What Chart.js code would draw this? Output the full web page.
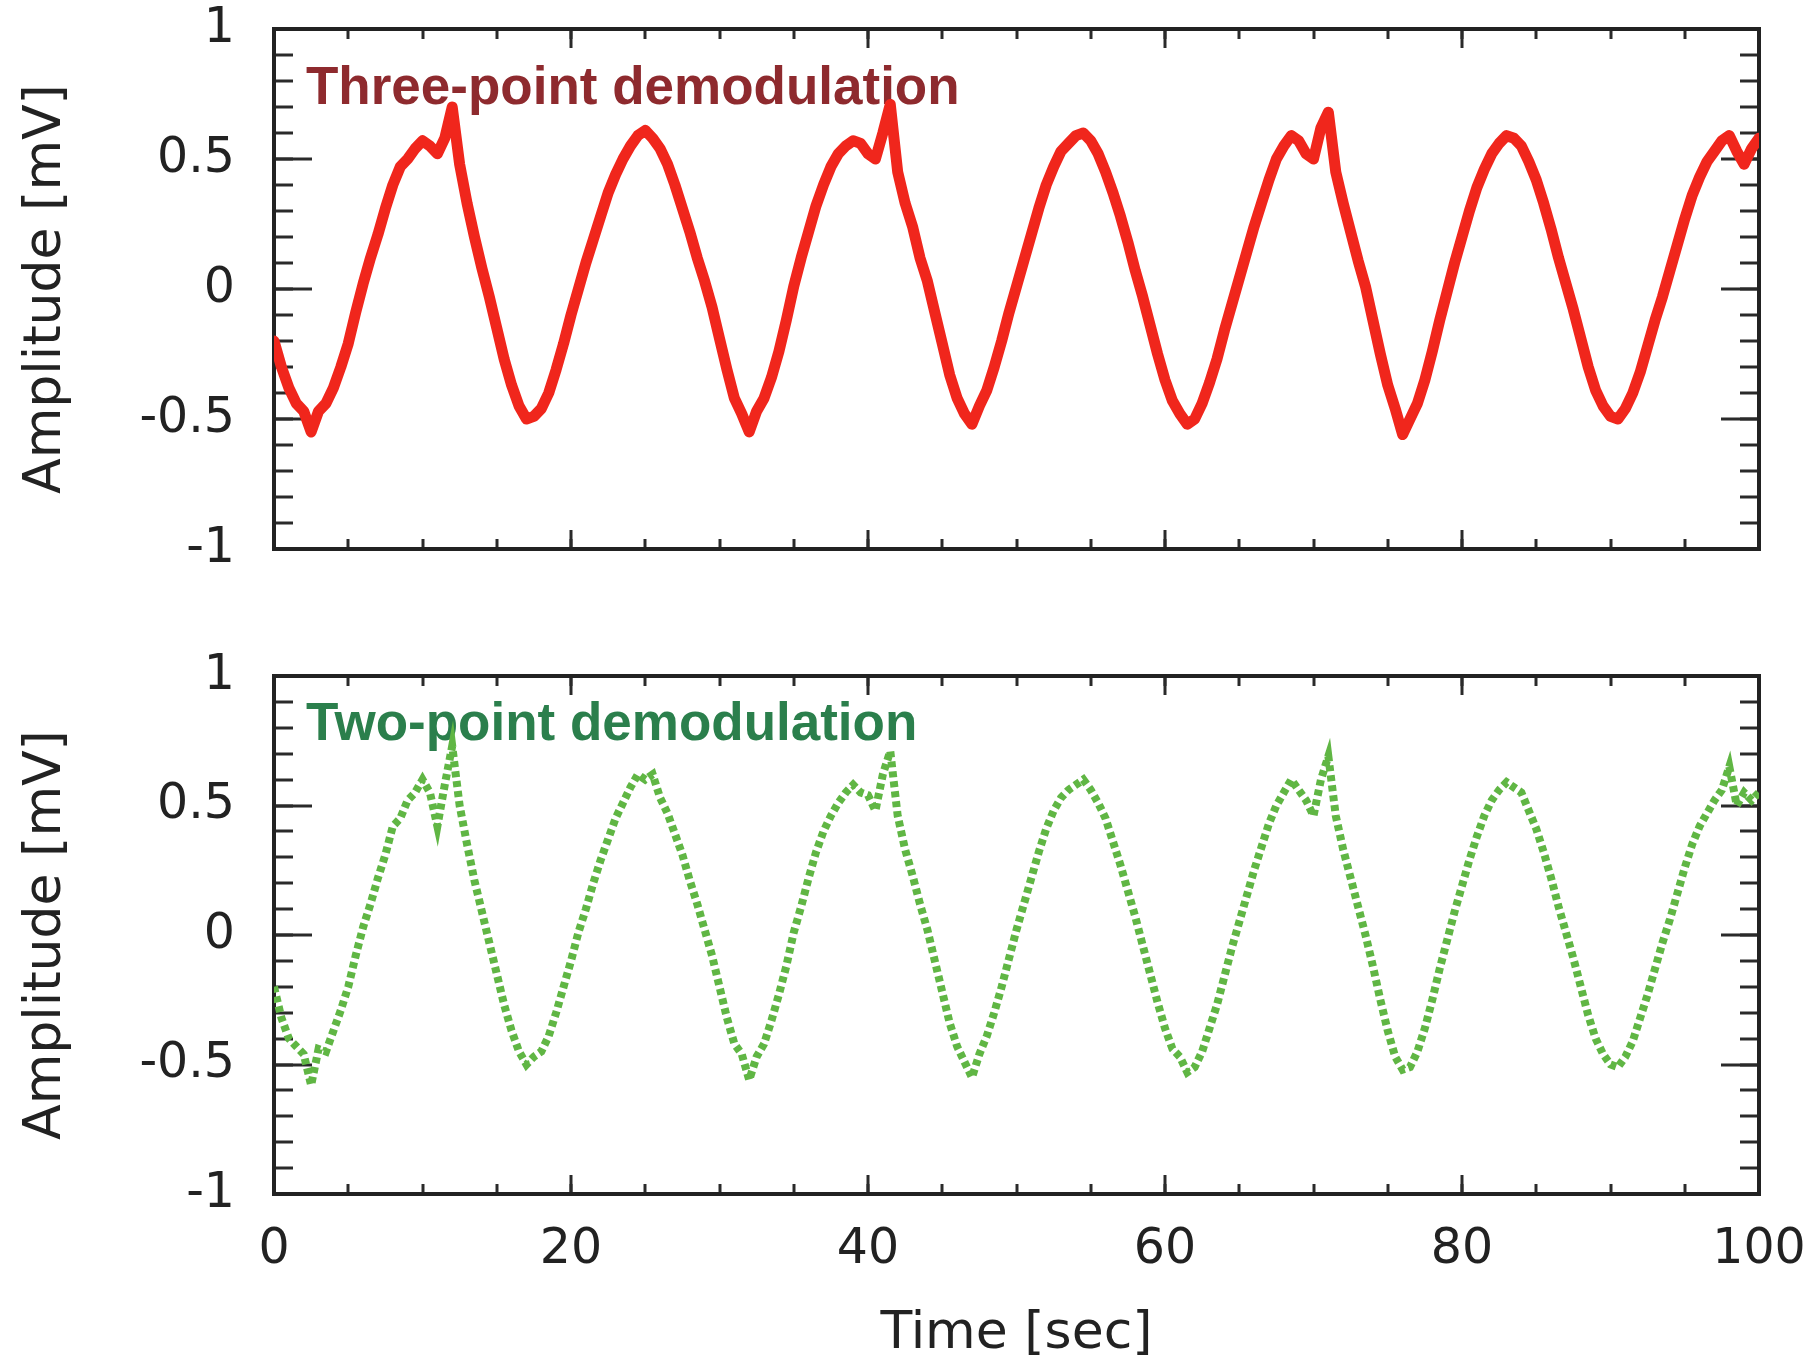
<!DOCTYPE html>
<html><head><meta charset="utf-8">
<script src="https://cdn.jsdelivr.net/npm/chart.js@4.4.1/dist/chart.umd.min.js"></script>
<style>
html,body{margin:0;padding:0;background:#fff;}
#wrap{position:relative;width:1812px;height:1360px;overflow:hidden;background:#fff;}
#c1{position:absolute;left:0;top:0;}
#c2{position:absolute;left:0;top:620px;}
</style></head>
<body><div id="wrap"><canvas id="c1" width="1812" height="620"></canvas><canvas id="c2" width="1812" height="740"></canvas></div>
<script>
// sampling of the traces (seconds)
const timeStart = 0;
const timeStep = 0.5;

// Three-point demodulation [mV], one value every 0.5 s from 0 to 100 s
const threePoint = [
 -0.20,-0.30,-0.38,-0.44,-0.47,-0.55,-0.47,-0.44,-0.38,-0.30,
 -0.21,-0.09, 0.02, 0.12, 0.21, 0.31, 0.40, 0.47, 0.50, 0.54,
  0.57, 0.55, 0.52, 0.58, 0.70, 0.48, 0.33, 0.20, 0.08,-0.03,
 -0.15,-0.27,-0.37,-0.45,-0.50,-0.49,-0.46,-0.40,-0.31,-0.21,
 -0.10, 0.00, 0.10, 0.19, 0.28, 0.37, 0.44, 0.50, 0.55, 0.59,
  0.61, 0.58, 0.54, 0.48, 0.40, 0.31, 0.22, 0.12, 0.03,-0.07,
 -0.19,-0.31,-0.42,-0.48,-0.55,-0.47,-0.42,-0.34,-0.24,-0.12,
  0.01, 0.12, 0.22, 0.32, 0.40, 0.47, 0.52, 0.55, 0.57, 0.56,
  0.52, 0.50, 0.60, 0.71, 0.45, 0.33, 0.24, 0.12, 0.03,-0.09,
 -0.21,-0.33,-0.42,-0.48,-0.52,-0.45,-0.39,-0.30,-0.20,-0.09,
  0.01, 0.11, 0.21, 0.31, 0.40, 0.47, 0.53, 0.56, 0.59, 0.60,
  0.57, 0.52, 0.45, 0.37, 0.28, 0.18, 0.07,-0.03,-0.14,-0.25,
 -0.35,-0.43,-0.48,-0.52,-0.50,-0.44,-0.36,-0.27,-0.16,-0.06,
  0.04, 0.14, 0.24, 0.33, 0.42, 0.50, 0.55, 0.59, 0.57, 0.52,
  0.50, 0.62, 0.68, 0.45, 0.33, 0.22, 0.11, 0.01,-0.12,-0.25,
 -0.37,-0.46,-0.56,-0.50,-0.44,-0.35,-0.24,-0.12,-0.01, 0.10,
  0.20, 0.30, 0.39, 0.46, 0.52, 0.56, 0.59, 0.58, 0.55, 0.49,
  0.42, 0.33, 0.23, 0.12, 0.02,-0.08,-0.19,-0.30,-0.39,-0.45,
 -0.49,-0.50,-0.46,-0.40,-0.32,-0.22,-0.12,-0.03, 0.07, 0.17,
  0.27, 0.36, 0.43, 0.49, 0.53, 0.57, 0.59, 0.53, 0.48, 0.54,
  0.58
];

// Two-point demodulation [mV], one value every 0.5 s from 0 to 100 s
const twoPoint = [
 -0.20,-0.32,-0.40,-0.43,-0.46,-0.58,-0.44,-0.45,-0.37,-0.29,
 -0.20,-0.08, 0.03, 0.12, 0.22, 0.31, 0.42, 0.45, 0.52, 0.55,
  0.60, 0.55, 0.42, 0.58, 0.73, 0.50, 0.35, 0.21, 0.09,-0.03,
 -0.15,-0.27,-0.37,-0.45,-0.50,-0.47,-0.45,-0.39,-0.30,-0.20,
 -0.10, 0.01, 0.10, 0.20, 0.29, 0.37, 0.45, 0.51, 0.57, 0.62,
  0.60, 0.62, 0.53, 0.47, 0.39, 0.31, 0.21, 0.12, 0.02,-0.08,
 -0.20,-0.32,-0.42,-0.46,-0.56,-0.47,-0.42,-0.33,-0.23,-0.12,
  0.01, 0.11, 0.22, 0.32, 0.40, 0.46, 0.51, 0.55, 0.58, 0.55,
  0.54, 0.48, 0.62, 0.71, 0.46, 0.33, 0.23, 0.12, 0.02,-0.10,
 -0.22,-0.34,-0.43,-0.49,-0.55,-0.46,-0.39,-0.30,-0.20,-0.09,
  0.02, 0.12, 0.22, 0.32, 0.41, 0.48, 0.53, 0.56, 0.58, 0.60,
  0.56, 0.51, 0.45, 0.36, 0.27, 0.17, 0.07,-0.04,-0.15,-0.26,
 -0.36,-0.44,-0.47,-0.53,-0.51,-0.45,-0.36,-0.27,-0.16,-0.05,
  0.05, 0.15, 0.25, 0.34, 0.43, 0.50, 0.55, 0.60, 0.56, 0.52,
  0.46, 0.60, 0.69, 0.46, 0.33, 0.22, 0.11, 0.00,-0.12,-0.25,
 -0.37,-0.47,-0.52,-0.51,-0.45,-0.36,-0.25,-0.13,-0.02, 0.09,
  0.19, 0.29, 0.38, 0.46, 0.52, 0.56, 0.59, 0.57, 0.55, 0.48,
  0.41, 0.32, 0.22, 0.11, 0.01,-0.09,-0.20,-0.31,-0.40,-0.46,
 -0.50,-0.51,-0.47,-0.41,-0.32,-0.23,-0.13,-0.03, 0.06, 0.16,
  0.26, 0.35, 0.42, 0.47, 0.52, 0.56, 0.65, 0.50, 0.55, 0.52,
  0.55
];

const xMajorTicks = [0, 20, 40, 60, 80, 100];
const xTickLabels = ['0', '20', '40', '60', '80', '100'];
const xMinorTicks = [0,5,10,15,20,25,30,35,40,45,50,55,60,65,70,75,80,85,90,95,100];
const yMajorTicks = [-1, -0.5, 0, 0.5, 1];
const yTickLabels = ['-1', '-0.5', '0', '0.5', '1'];
const yMinorTicks = [-1,-0.9,-0.8,-0.7,-0.6,-0.5,-0.4,-0.3,-0.2,-0.1,0,0.1,0.2,0.3,0.4,0.5,0.6,0.7,0.8,0.9,1];
const xAxisTitle = 'Time [sec]';
const yAxisTitle = 'Amplitude [mV]';
const panelLabels = ['Three-point demodulation', 'Two-point demodulation'];

function toPoints(values) {
  return values.map((v, i) => ({x: timeStart + i * timeStep, y: v}));
}

function noPad(s) { s.paddingTop = 0; s.paddingBottom = 0; s.paddingLeft = 0; s.paddingRight = 0; }

function makeScales(cfg) {
  const tickFont = {family: 'DejaVu Sans', size: 49};
  const titleFont = {family: 'DejaVu Sans', size: 52, lineHeight: 1.0};
  const frame = {display: true, width: 4, color: '#222'};
  const hidden = {display: false};
  const setTicks = arr => s => { s.ticks = arr.map(v => ({value: v})); };
  const grid = len => ({drawOnChartArea: false, drawTicks: true, tickLength: -len, tickWidth: 3, tickColor: '#2a2a2a', lineWidth: 4});
  const fixH = h => s => { s.height = h; noPad(s); };
  const fixW = w => s => { s.width = w; noPad(s); };
  const xBase = {type: 'linear', min: 0, max: 100};
  const yBase = {type: 'linear', min: -1, max: 1};
  return {
    x: Object.assign({}, xBase, {position: 'bottom', weight: 1, afterBuildTicks: setTicks(xMajorTicks), afterFit: fixH(cfg.bottomH),
      grid: grid(19), border: frame,
      ticks: {display: cfg.xLabels, font: tickFont, color: '#222', padding: 46, maxRotation: 0, autoSkip: false, callback: (v, i) => xTickLabels[i]},
      title: {display: cfg.xLabels, text: xAxisTitle, font: titleFont, color: '#222', padding: {top: 0, bottom: 0}}}),
    xMinor: Object.assign({}, xBase, {position: 'bottom', weight: 0, afterBuildTicks: setTicks(xMinorTicks), afterFit: fixH(0),
      grid: grid(10), border: hidden, ticks: {display: false}}),
    xTop: Object.assign({}, xBase, {position: 'top', weight: 1, afterBuildTicks: setTicks(xMajorTicks), afterFit: fixH(cfg.topH),
      grid: grid(19), border: frame, ticks: {display: false}}),
    xTopMinor: Object.assign({}, xBase, {position: 'top', weight: 0, afterBuildTicks: setTicks(xMinorTicks), afterFit: fixH(0),
      grid: grid(10), border: hidden, ticks: {display: false}}),
    y: Object.assign({}, yBase, {position: 'left', weight: 1, afterBuildTicks: setTicks(yMajorTicks), afterFit: fixW(274),
      grid: grid(38), border: frame,
      ticks: {font: tickFont, color: '#222', padding: 77, callback: (v, i) => yTickLabels[i]},
      title: {display: true, text: yAxisTitle, font: titleFont, color: '#222', padding: {top: 20, bottom: 0}}}),
    yMinor: Object.assign({}, yBase, {position: 'left', weight: 0, afterBuildTicks: setTicks(yMinorTicks), afterFit: fixW(0),
      grid: grid(19), border: hidden, ticks: {display: false}}),
    yRight: Object.assign({}, yBase, {position: 'right', weight: 1, afterBuildTicks: setTicks(yMajorTicks), afterFit: fixW(53),
      grid: grid(38), border: frame, ticks: {display: false}}),
    yRightMinor: Object.assign({}, yBase, {position: 'right', weight: 0, afterBuildTicks: setTicks(yMinorTicks), afterFit: fixW(0),
      grid: grid(19), border: hidden, ticks: {display: false}})
  };
}

const panelLabelPlugin = {
  id: 'panelLabel',
  beforeDatasetsDraw(chart, args, opts) {
    const ctx = chart.ctx;
    ctx.save();
    ctx.font = 'bold 53px "Liberation Sans"';
    ctx.fillStyle = opts.color;
    ctx.textBaseline = 'alphabetic';
    ctx.textAlign = 'left';
    ctx.fillText(opts.text, chart.chartArea.left + 32, chart.chartArea.top + opts.dy);
    ctx.restore();
  }
};

function makeChart(id, dataset, cfg, label) {
  return new Chart(document.getElementById(id), {
    type: 'line',
    data: {datasets: [dataset]},
    options: {
      responsive: false,
      animation: false,
      devicePixelRatio: 1,
      layout: {padding: 0},
      scales: makeScales(cfg),
      plugins: {legend: {display: false}, tooltip: {enabled: false}, panelLabel: label}
    },
    plugins: [panelLabelPlugin]
  });
}

makeChart('c1', {
  label: panelLabels[0],
  data: toPoints(threePoint),
  xAxisID: 'x', yAxisID: 'y',
  borderColor: 'rgb(240,38,28)',
  borderWidth: 11,
  pointRadius: 0,
  tension: 0,
  fill: false,
  borderJoinStyle: 'round',
  borderCapStyle: 'round'
}, {xLabels: false, topH: 29, bottomH: 71}, {text: panelLabels[0], color: '#8e2a2e', dy: 75});

makeChart('c2', {
  label: panelLabels[1],
  data: toPoints(twoPoint),
  xAxisID: 'x', yAxisID: 'y',
  borderColor: 'rgb(96,182,68)',
  borderWidth: 8,
  borderDash: [6, 4],
  pointRadius: 0,
  tension: 0,
  fill: false,
  borderJoinStyle: 'miter',
  borderCapStyle: 'butt'
}, {xLabels: true, topH: 56, bottomH: 166}, {text: panelLabels[1], color: '#2b7f4c', dy: 64});
</script>
</body></html>
